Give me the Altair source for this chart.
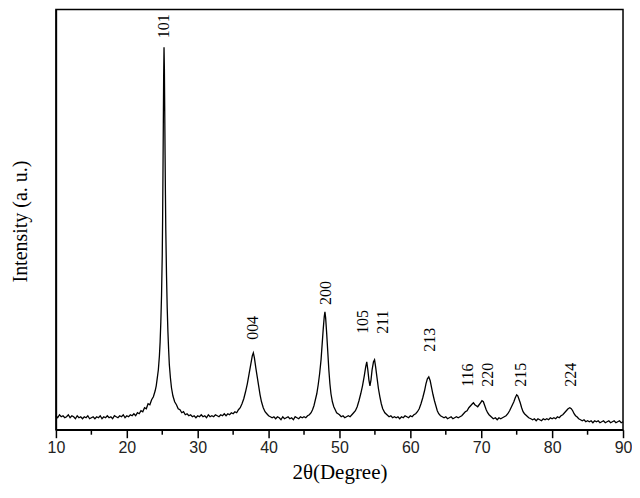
import altair as alt
import pandas as pd

two_theta = [
    10.00, 10.25, 10.50, 10.75, 11.00, 11.25, 11.50, 11.75, 12.00, 12.25, 12.50, 12.75,
    13.00, 13.25, 13.50, 13.75, 14.00, 14.25, 14.50, 14.75, 15.00, 15.25, 15.50, 15.75,
    16.00, 16.25, 16.50, 16.75, 17.00, 17.25, 17.50, 17.75, 18.00, 18.25, 18.50, 18.75,
    19.00, 19.25, 19.50, 19.75, 20.00, 20.25, 20.50, 20.75, 21.00, 21.25, 21.50, 21.75,
    22.00, 22.25, 22.50, 22.75, 23.00, 23.25, 23.50, 23.75, 24.00, 24.15, 24.30, 24.45,
    24.60, 24.70, 24.80, 24.90, 25.00, 25.05, 25.10, 25.15, 25.20, 25.25, 25.30, 25.35,
    25.40, 25.45, 25.50, 25.60, 25.70, 25.80, 25.90, 26.00, 26.15, 26.30, 26.50, 26.75,
    27.00, 27.25, 27.50, 27.75, 28.00, 28.25, 28.50, 28.75, 29.00, 29.25, 29.50, 29.75,
    30.00, 30.25, 30.50, 30.75, 31.00, 31.25, 31.50, 31.75, 32.00, 32.25, 32.50, 32.75,
    33.00, 33.25, 33.50, 33.75, 34.00, 34.25, 34.50, 34.75, 35.00, 35.25, 35.50, 35.75,
    36.00, 36.25, 36.50, 36.75, 37.00, 37.25, 37.50, 37.70, 37.85, 38.00, 38.20, 38.40,
    38.60, 38.80, 39.00, 39.25, 39.50, 39.75, 40.00, 40.25, 40.50, 40.75, 41.00, 41.25,
    41.50, 41.75, 42.00, 42.25, 42.50, 42.75, 43.00, 43.25, 43.50, 43.75, 44.00, 44.25,
    44.50, 44.75, 45.00, 45.25, 45.50, 45.75, 46.00, 46.20, 46.40, 46.60, 46.80, 47.00,
    47.20, 47.40, 47.55, 47.70, 47.85, 47.95, 48.05, 48.20, 48.35, 48.50, 48.65, 48.80,
    49.00, 49.20, 49.40, 49.60, 49.80, 50.00, 50.25, 50.50, 50.75, 51.00, 51.25, 51.50,
    51.75, 52.00, 52.25, 52.50, 52.75, 53.00, 53.25, 53.50, 53.70, 53.85, 54.00, 54.15,
    54.30, 54.45, 54.60, 54.80, 54.95, 55.10, 55.30, 55.50, 55.70, 55.90, 56.10, 56.40,
    56.70, 57.00, 57.25, 57.50, 57.75, 58.00, 58.25, 58.50, 58.75, 59.00, 59.25, 59.50,
    59.75, 60.00, 60.25, 60.50, 60.75, 61.00, 61.25, 61.50, 61.75, 62.00, 62.20, 62.40,
    62.60, 62.80, 63.00, 63.20, 63.40, 63.60, 63.80, 64.00, 64.25, 64.50, 64.75, 65.00,
    65.25, 65.50, 65.75, 66.00, 66.25, 66.50, 66.75, 67.00, 67.25, 67.50, 67.75, 68.00,
    68.25, 68.50, 68.75, 68.90, 69.10, 69.30, 69.50, 69.70, 69.90, 70.10, 70.30, 70.50,
    70.70, 70.90, 71.10, 71.40, 71.70, 72.00, 72.25, 72.50, 72.75, 73.00, 73.25, 73.50,
    73.75, 74.00, 74.20, 74.40, 74.60, 74.80, 75.00, 75.15, 75.30, 75.50, 75.70, 75.90,
    76.10, 76.40, 76.70, 77.00, 77.25, 77.50, 77.75, 78.00, 78.25, 78.50, 78.75, 79.00,
    79.25, 79.50, 79.75, 80.00, 80.25, 80.50, 80.75, 81.00, 81.25, 81.50, 81.75, 82.00,
    82.25, 82.50, 82.70, 82.90, 83.10, 83.30, 83.50, 83.75, 84.00, 84.25, 84.50, 84.75,
    85.00, 85.25, 85.50, 85.75, 86.00, 86.25, 86.50, 86.75, 87.00, 87.25, 87.50, 87.75,
    88.00, 88.25, 88.50, 88.75, 89.00, 89.25, 89.50, 89.75, 90.00,
]
intensity = [
    14, 12, 15, 13, 14, 12, 13, 15, 12, 14, 13, 11,
    14, 12, 13, 11, 13, 12, 14, 11, 12, 13, 11, 13,
    12, 14, 11, 13, 12, 14, 12, 13, 11, 14, 13, 12,
    14, 13, 15, 12, 14, 13, 15, 14, 16, 14, 17, 16,
    19, 18, 22, 21, 26, 25, 30, 33, 39, 44, 52, 60,
    74, 88, 108, 135, 175, 210, 255, 305, 355, 383, 362, 320,
    275, 235, 200, 155, 122, 98, 80, 65, 52, 42, 34, 28,
    25, 21, 20, 17, 18, 15, 16, 14, 15, 13, 14, 12,
    14, 13, 15, 13, 14, 12, 15, 13, 14, 13, 15, 14,
    13, 15, 14, 16, 14, 16, 15, 17, 16, 18, 17, 20,
    22, 26, 31, 38, 46, 56, 66, 74, 77, 72, 62, 53,
    44, 35, 28, 22, 18, 16, 14, 13, 12, 13, 11, 13,
    12, 10, 13, 11, 12, 13, 11, 12, 10, 13, 12, 11,
    13, 12, 13, 12, 14, 15, 17, 20, 24, 30, 36, 45,
    56, 70, 85, 100, 113, 118, 112, 96, 78, 60, 46, 36,
    28, 23, 20, 17, 16, 15, 13, 14, 12, 13, 14, 13,
    15, 17, 19, 23, 29, 36, 44, 54, 63, 68, 60, 50,
    44, 50, 60, 68, 70, 63, 52, 41, 33, 26, 21, 17,
    15, 13, 14, 12, 13, 12, 13, 11, 13, 12, 14, 13,
    12, 14, 13, 15, 16, 18, 21, 26, 32, 39, 46, 51,
    53, 49, 42, 35, 29, 24, 19, 16, 14, 13, 12, 13,
    11, 12, 13, 11, 12, 13, 12, 13, 14, 16, 18, 19,
    22, 24, 26, 27, 25, 24, 23, 25, 27, 29, 28, 24,
    20, 17, 15, 13, 11, 12, 10, 12, 11, 12, 13, 14,
    16, 19, 22, 25, 28, 32, 35, 34, 31, 27, 22, 18,
    16, 14, 12, 11, 10, 11, 9, 11, 10, 9, 11, 10,
    11, 10, 12, 11, 12, 11, 13, 12, 14, 15, 17, 19,
    21, 22, 21, 19, 16, 14, 13, 11, 10, 9, 10, 8,
    9, 8, 9, 7, 9, 8, 9, 7, 8, 9, 7, 8,
    9, 7, 8, 9, 7, 8, 9, 7, 8,
]

# peak (hkl) labels: text, 2-theta anchor, intensity anchor (bottom of text)
peak_names = ["101", "004", "200", "105", "211", "213", "116", "220", "215", "224"]
peak_x = [25.27, 37.74, 48.10, 53.30, 56.10, 62.80, 68.10, 70.90, 75.60, 82.70]
peak_y = [392, 90, 125, 96, 96, 78, 43, 43, 43, 43]

major_ticks = [10, 20, 30, 40, 50, 60, 70, 80, 90]
minor_ticks = [15, 25, 35, 45, 55, 65, 75, 85]

df = pd.DataFrame({"t": two_theta, "i": intensity})
labels = pd.DataFrame({"name": peak_names, "t": peak_x, "i": peak_y})
minors = pd.DataFrame({"t": minor_ticks})

xscale = alt.Scale(domain=[10, 90], nice=False, zero=False)
yscale = alt.Scale(domain=[0, 421], nice=False, zero=False)

x_axis = alt.Axis(
    values=major_ticks,
    tickSize=8,
    tickColor="black",
    tickWidth=1.5,
    domainColor="black",
    domainWidth=1.5,
    grid=False,
    labelFlush=False,
    labelOverlap=False,
    labelFont="Liberation Sans",
    labelFontSize=16,
    labelColor="#222222",
    labelPadding=2,
    title="2θ(Degree)",
    titleFont="Liberation Serif",
    titleFontSize=21,
    titleFontWeight="normal",
    titleColor="black",
    titleBaseline="middle",
    titleY=43,
)
y_axis = alt.Axis(
    ticks=False,
    labels=False,
    grid=False,
    domainColor="black",
    domainWidth=1.5,
    title="Intensity (a. u.)",
    titleFont="Liberation Serif",
    titleFontSize=20,
    titleFontWeight="normal",
    titleColor="black",
    titleBaseline="middle",
    titleAlign="center",
    titleX=-35,
    titleY=212,
)

line = alt.Chart(df).mark_line(color="black", strokeWidth=1.3, interpolate="linear").encode(
    x=alt.X("t:Q", scale=xscale, axis=x_axis),
    y=alt.Y("i:Q", scale=yscale, axis=y_axis),
)

minor_rules = alt.Chart(minors).mark_rule(color="black", strokeWidth=1.5).encode(
    x=alt.X("t:Q", scale=xscale),
    y=alt.value(421),
    y2=alt.value(426),
)

text = alt.Chart(labels).mark_text(
    angle=270,
    align="left",
    baseline="middle",
    font="Liberation Serif",
    fontSize=16,
    color="black",
).encode(
    x=alt.X("t:Q", scale=xscale),
    y=alt.Y("i:Q", scale=yscale),
    text="name:N",
)

chart = (
    alt.layer(line, minor_rules, text)
    .properties(
        width=568,
        height=421,
        autosize=alt.AutoSizeParams(type="none"),
        padding={"left": 48, "top": 1, "right": 9, "bottom": 60},
        background="white",
    )
    .configure_view(stroke="black", strokeWidth=1.5)
)

chart.save("out.html", embed_options={"renderer": "svg", "actions": False})
